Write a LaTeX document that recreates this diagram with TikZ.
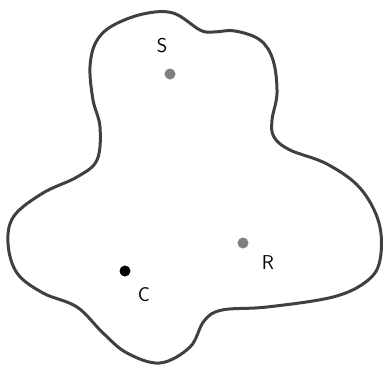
\documentclass[tikz,border=0pt]{standalone}
\usepackage{tikz}
\usetikzlibrary{positioning}

\tikzset{
    dot/.style={circle, inner sep=0pt, minimum size=11pt},
    lbl/.style={font=\sffamily\fontsize{20}{20}\selectfont, inner sep=0pt}
}

\begin{document}
\begin{tikzpicture}[x=1pt, y=-1pt]
    \useasboundingbox (0,0) rectangle (387,367);

    % Region boundary
    \draw[line width=3pt, black!75] plot[smooth cycle, tension=0.6] coordinates {
        (96,42) (112,26) (143,14) (173,13) (200,30) (213,32) (235,31)
        (260,40) (273,60) (277,93) (272,120) (274,137) (290,150)
        (327,164) (360,188) (379,223) (380,260) (367,281) (333,297)
        (267,307) (222,310) (204,321) (190,347) (160,363) (127,353)
        (103,333) (77,307) (43,293) (17,273) (8,243) (14,216)
        (43,193) (77,177) (97,160) (100,127) (93,100) (90,67)
    };

    % Points
    \node[dot, fill=black!50] (S) at (170,74) {};
    \node[dot, fill=black!50] (R) at (243,243) {};
    \node[dot, fill=black] (C) at (125,271) {};

    % Labels
    \node[lbl] (Slab) at (162,46) {S};
    \node[lbl] (Rlab) at (268,263) {R};
    \node[lbl] (Clab) at (144,295) {C};

\end{tikzpicture}
\end{document}
